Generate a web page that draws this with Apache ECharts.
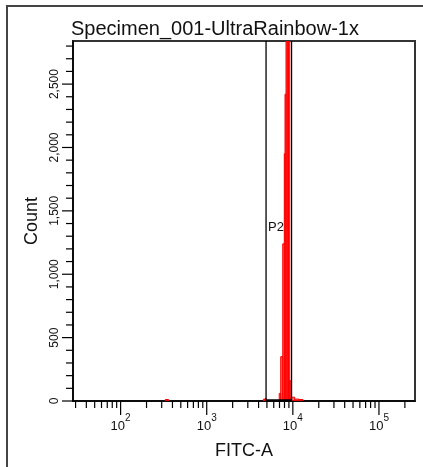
<!DOCTYPE html>
<html><head><meta charset="utf-8">
<script src="https://cdn.jsdelivr.net/npm/echarts@6/dist/echarts.min.js"></script>
<style>html,body{margin:0;padding:0;background:#fff}#c{width:423px;height:467px}</style>
</head><body><div id="c"></div>
<script>
// ---- data ----
const titleText = 'Specimen_001-UltraRainbow-1x';
const xName = 'FITC-A';
const yName = 'Count';
const xMin = 28, xMax = 262144;
const yMin = 0, yMax = 2840, yStep = 500;
const xMajorTicks = [100, 1000, 10000, 100000];
const xMinorTicks = [30, 40, 50, 60, 70, 80, 90, 200, 300, 400, 500, 600, 700, 800, 900,
  2000, 3000, 4000, 5000, 6000, 7000, 8000, 9000,
  20000, 30000, 40000, 50000, 60000, 70000, 80000, 90000, 200000];
const yMajorTicks = [0, 500, 1000, 1500, 2000, 2500];
const yMinorTicks = [100, 200, 300, 400, 600, 700, 800, 900, 1100, 1200, 1300, 1400,
  1600, 1700, 1800, 1900, 2100, 2200, 2300, 2400, 2600, 2700, 2800];
const histEdges = [330, 360, 4550, 4750, 4950, 6950, 7230, 7630, 7960, 8110, 8330, 8600, 8900, 9200, 9500, 10500, 11800, 13100];
const histCounts = [10, 0, 14, 18, 0, 60, 350, 1240, 1950, 2420, 3500, 4300, 3600, 160, 30, 15, 10];
const gateName = 'P2';
const gateRange = [4886, 9660];
const gateLabelCount = 1370;

// ---- build ----
const FONT = 'Liberation Sans';
const bins = [];
for (let i = 0; i < histCounts.length; i++) {
  if (histCounts[i] > 0) bins.push([histEdges[i], histEdges[i + 1], histCounts[i]]);
}
function xLabel(v) {
  const e = Math.round(Math.log10(v));
  if (Math.abs(Math.pow(10, e) - v) < 1e-6 * v && xMajorTicks.indexOf(Math.pow(10, e)) >= 0) {
    return '{b|10}{s|' + e + '}';
  }
  return '';
}
function tickSeries(values, axis, len) {
  return {
    type: 'custom', clip: false, silent: true, z: 5,
    data: values.map(v => axis === 'x' ? [v, yMin] : [xMin, v]),
    renderItem: function (params, api) {
      const p = api.coord([api.value(0), api.value(1)]);
      const shape = axis === 'x'
        ? { x1: p[0], y1: p[1], x2: p[0], y2: p[1] + len }
        : { x1: p[0], y1: p[1], x2: p[0] - len, y2: p[1] };
      return { type: 'line', shape: shape, style: { stroke: '#000', lineWidth: 1.2 } };
    }
  };
}

const chart = echarts.init(document.getElementById('c'), null, { renderer: 'canvas' });
chart.setOption({
  animation: false,
  backgroundColor: '#fff',
  title: {
    text: titleText, left: 71, top: 19, padding: 0,
    textStyle: { fontFamily: FONT, fontSize: 20, fontWeight: 'normal', color: '#111' }
  },
  grid: { left: 73, right: 8, top: 41, bottom: 66, show: true, borderColor: '#333', borderWidth: 2, backgroundColor: '#fff' },
  xAxis: {
    type: 'log', logBase: 10, min: xMin, max: xMax,
    name: xName, nameLocation: 'middle', nameGap: 41,
    nameTextStyle: { fontFamily: FONT, fontSize: 18, color: '#111' },
    axisLine: { show: true, lineStyle: { color: '#000', width: 1.5 } },
    axisTick: { show: false },
    splitLine: { show: false },
    axisLabel: {
      showMinLabel: false, showMaxLabel: false, margin: 12,
      formatter: xLabel,
      rich: {
        b: { fontFamily: FONT, fontSize: 13, color: '#111', lineHeight: 20, verticalAlign: 'bottom' },
        s: { fontFamily: FONT, fontSize: 10, color: '#111', lineHeight: 20, verticalAlign: 'top' }
      }
    }
  },
  yAxis: {
    type: 'value', min: yMin, max: yMax, interval: yStep,
    name: yName, nameLocation: 'middle', nameGap: 28, nameRotate: 90,
    nameTextStyle: { fontFamily: FONT, fontSize: 18, color: '#111' },
    axisLine: { show: true, lineStyle: { color: '#000', width: 1.5 } },
    axisTick: { show: false },
    splitLine: { show: false },
    axisLabel: {
      rotate: 90, margin: 12, showMaxLabel: false,
      fontFamily: FONT, fontSize: 12, color: '#111',
      formatter: v => v.toLocaleString('en-US')
    }
  },
  series: [
    {
      type: 'custom', name: 'hist', clip: true, z: 3,
      data: bins,
      encode: { x: [0, 1], y: 2 },
      renderItem: function (params, api) {
        const p0 = api.coord([api.value(0), yMin]);
        const p1 = api.coord([api.value(1), api.value(2)]);
        const top = api.coord([api.value(0), yMax])[1];
        const y = Math.max(p1[1], top - 2);
        const h = Math.max(p0[1] - y, 1.5);
        return {
          type: 'rect',
          shape: { x: p0[0], y: p0[1] - h, width: p1[0] - p0[0], height: h },
          style: { fill: 'rgba(255,40,40,0.65)', stroke: '#ff0000', lineWidth: 1 }
        };
      }
    },
    {
      type: 'custom', name: 'gate', clip: false, z: 4, silent: true,
      data: [[gateRange[0], gateRange[1], gateLabelCount]],
      renderItem: function (params, api) {
        const a0 = api.coord([api.value(0), yMin]);
        const a1 = api.coord([api.value(0), yMax]);
        const b0 = api.coord([api.value(1), yMin]);
        const b1 = api.coord([api.value(1), yMax]);
        const ly = api.coord([api.value(0), api.value(2)])[1];
        return {
          type: 'group',
          children: [
            { type: 'line', shape: { x1: a0[0], y1: a0[1], x2: a1[0], y2: a1[1] }, style: { stroke: '#000', lineWidth: 1.3 } },
            { type: 'line', shape: { x1: b0[0], y1: b0[1], x2: b1[0], y2: b1[1] }, style: { stroke: '#000', lineWidth: 1.3 } },
            { type: 'line', shape: { x1: a0[0], y1: a0[1] - 0.5, x2: b0[0], y2: b0[1] - 0.5 }, style: { stroke: '#000', lineWidth: 2.5 } },
            { type: 'text', x: a0[0] + 2, y: ly, style: { text: gateName, fill: '#111', font: '13px "Liberation Sans"', verticalAlign: 'middle', align: 'left' } }
          ]
        };
      }
    },
    tickSeries(xMajorTicks, 'x', 14),
    tickSeries(xMinorTicks, 'x', 7),
    tickSeries(yMajorTicks, 'y', 11),
    tickSeries(yMinorTicks, 'y', 7)
  ],
  graphic: [
    { type: 'polyline', silent: true, shape: { points: [[7, 467], [7, 6], [423, 6]] }, style: { stroke: '#444', lineWidth: 2, fill: null } }
  ]
});
</script>
</body></html>
